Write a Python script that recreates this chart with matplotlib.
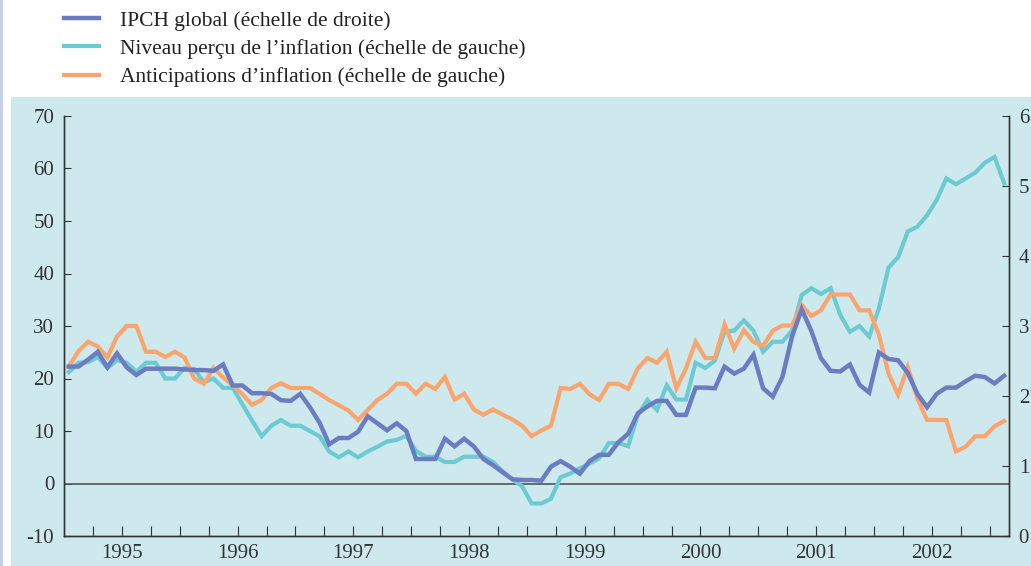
import numpy as np
import matplotlib.pyplot as plt
from matplotlib.patches import Rectangle
from matplotlib.lines import Line2D

plt.rcParams['font.family'] = ['Liberation Serif', 'DejaVu Serif']
plt.rcParams['axes.unicode_minus'] = False

# monthly data, Jan 1995 - Feb 2003
start_year = 1995
# IPCH global, % (right scale)
ipch = [2.42, 2.42, 2.52, 2.63, 2.41, 2.61, 2.41, 2.30, 2.39, 2.39, 2.39, 2.39,
        2.38, 2.37, 2.37, 2.36, 2.45, 2.15, 2.15, 2.04, 2.04, 2.03, 1.94, 1.93,
        2.03, 1.84, 1.62, 1.31, 1.40, 1.40, 1.49, 1.71, 1.61, 1.51, 1.61, 1.50,
        1.10, 1.10, 1.10, 1.39, 1.28, 1.39, 1.28, 1.10, 1.01, 0.91, 0.81, 0.80,
        0.80, 0.79, 0.99, 1.07, 0.99, 0.89, 1.07, 1.16, 1.16, 1.34, 1.46, 1.75,
        1.85, 1.93, 1.93, 1.73, 1.73, 2.12, 2.12, 2.11, 2.42, 2.32, 2.39, 2.59,
        2.11, 1.99, 2.27, 2.85, 3.24, 2.93, 2.54, 2.36, 2.35, 2.45, 2.16, 2.05,
        2.62, 2.53, 2.51, 2.33, 2.03, 1.84, 2.03, 2.12, 2.12, 2.21, 2.29, 2.27,
        2.18, 2.29]
# perceived inflation (left scale)
percu = [21.2, 23.0, 23.1, 24.1, 22.0, 23.5, 23.0, 21.3, 23.0, 23.0, 20.0, 20.0,
         22.0, 21.8, 19.3, 20.0, 18.2, 18.2, 15.1, 12.0, 9.0, 11.0, 12.1, 11.0,
         11.0, 10.0, 9.0, 6.1, 5.0, 6.1, 5.0, 6.1, 7.0, 8.0, 8.3, 9.1,
         6.2, 5.1, 5.1, 4.1, 4.1, 5.1, 5.1, 5.1, 4.1, 2.3, 0.8, -0.5,
         -3.8, -3.8, -2.9, 1.2, 1.9, 2.9, 3.8, 4.8, 7.7, 7.7, 7.1, 13.0,
         15.9, 14.0, 18.7, 16.0, 16.0, 23.0, 22.0, 23.4, 29.0, 29.1, 31.1, 29.1,
         25.1, 27.0, 27.0, 29.1, 35.9, 37.2, 36.1, 37.2, 32.1, 28.9, 30.0, 28.0,
         33.3, 41.1, 43.1, 48.0, 48.9, 51.1, 54.0, 58.1, 57.0, 58.1, 59.2, 61.1,
         62.2, 57.2]
# inflation expectations (left scale)
antic = [22.3, 25.2, 27.0, 26.1, 24.0, 28.0, 30.0, 30.0, 25.1, 25.1, 24.1, 25.1,
         24.0, 20.0, 19.0, 22.0, 20.2, 18.7, 17.0, 15.0, 15.9, 18.2, 19.1, 18.2,
         18.2, 18.2, 17.1, 15.9, 14.9, 13.9, 12.1, 14.0, 15.9, 17.1, 19.0, 19.0,
         17.1, 19.0, 18.0, 20.3, 16.0, 17.1, 14.1, 13.1, 14.1, 13.1, 12.2, 11.0,
         9.0, 10.1, 11.0, 18.2, 18.0, 19.0, 17.0, 15.9, 19.0, 19.0, 18.0, 21.9,
         23.9, 23.0, 25.1, 18.1, 21.9, 27.0, 23.9, 23.9, 30.3, 25.7, 29.2, 27.0,
         26.2, 29.1, 30.1, 30.1, 34.0, 31.9, 33.0, 36.0, 36.0, 36.0, 33.0, 33.0,
         28.4, 21.0, 16.9, 22.2, 16.2, 12.1, 12.1, 12.1, 6.1, 7.0, 9.0, 9.0,
         10.9, 11.9]
years = list(range(1995, 2003))

c_blue = '#6b7cc0'
c_cyan = '#6ccbd2'
c_orange = '#fba56c'
bg = '#cde9ee'

t = start_year + (np.arange(len(ipch)) + 0.5) / 12

fig = plt.figure(figsize=(10.31, 5.66), dpi=100)
fig.patches.append(Rectangle((11 / 1031, 0), 1, 1 - 97 / 566, transform=fig.transFigure,
                             facecolor=bg, edgecolor='none', zorder=-2))
fig.patches.append(Rectangle((0, 0), 3 / 1031, 1, transform=fig.transFigure,
                             facecolor='#c8cde6', edgecolor='none', zorder=-2))

ax = fig.add_axes([64 / 1031, 1 - 536 / 566, (1009 - 64) / 1031, (536 - 116) / 566])
ax.patch.set_visible(False)
ax2 = ax.twinx()

ax.plot(t, percu, color=c_cyan, lw=3, solid_joinstyle='miter', zorder=3)
ax.plot(t, antic, color=c_orange, lw=3, solid_joinstyle='miter', zorder=4)
ax2.plot(t, ipch, color=c_blue, lw=3.2, solid_joinstyle='miter', zorder=5)
ax.axhline(0, color='#555555', lw=1.2, zorder=2)

ax.set_ylim(-10, 70)
ax2.set_ylim(0, 6)
ax.set_xlim(1995, 2003 + 2 / 12)

ax.set_yticks(range(-10, 71, 10))
ax2.set_yticks(range(0, 7))
# quarterly ticks, year label on the mid-year tick
qticks = np.arange(1995.25, 2003.1, 0.25)
qlabels = [str(int(q)) if abs(q % 1 - 0.5) < 1e-6 else '' for q in qticks]
ax.set_xticks(qticks)
ax.set_xticklabels(qlabels)

for a in (ax, ax2):
    a.spines['top'].set_visible(False)
    for s in a.spines.values():
        s.set_color('#333333')
        s.set_linewidth(1.0)
ax.tick_params(axis='y', direction='in', length=5, labelsize=15, colors='#333333', pad=7)
ax2.tick_params(axis='y', direction='in', length=5, labelsize=15, colors='#333333', pad=7)
ax.tick_params(axis='x', direction='in', length=7, color='#333333',
               labelsize=15, labelcolor='#333333', pad=6)

handles = [Line2D([], [], color=c_blue, lw=3.2),
           Line2D([], [], color=c_cyan, lw=3),
           Line2D([], [], color=c_orange, lw=3)]
labels = ['IPCH global (échelle de droite)',
          'Niveau perçu de l\u2019inflation (échelle de gauche)',
          'Anticipations d\u2019inflation (échelle de gauche)']
fig.legend(handles, labels, loc='upper left', bbox_to_anchor=(49 / 1031, 1.008),
           frameon=False, fontsize=15.5, handlelength=1.6, handletextpad=1.0,
           labelspacing=0.38, borderaxespad=0.3, labelcolor='#222222')

fig.savefig('out.png', dpi=100)
